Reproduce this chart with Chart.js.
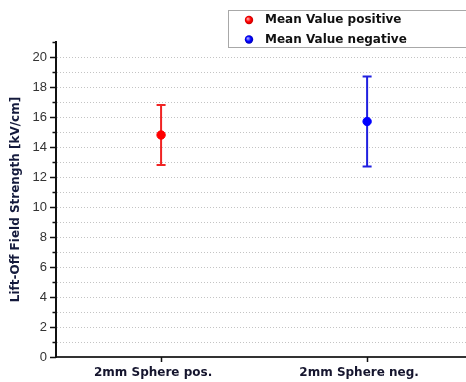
<!DOCTYPE html>
<html>
<head>
<meta charset="utf-8">
<script src="https://cdn.jsdelivr.net/npm/chart.js@4.4.0/dist/chart.umd.min.js"></script>
<style>
html,body{margin:0;padding:0;background:#fff;}
canvas{display:block;}
</style>
</head>
<body>
<canvas id="c" width="466" height="382"></canvas>
<script>
const categories = ['2mm Sphere pos.', '2mm Sphere neg.'];
const seriesNames = ['Mean Value positive', 'Mean Value negative'];
const categoryPositions = [0, 1];
const meanValues = [14.8, 15.7];
const lowerValues = [12.8, 12.7];
const upperValues = [16.8, 18.7];
const yTickLabels = [0, 2, 4, 6, 8, 10, 12, 14, 16, 18, 20];
const pointColors = ['#ff0000', '#0000ff'];
const barColors = ['#f02424', '#2020e0'];

const errorBarPlugin = {
  id: 'errorBars',
  beforeDatasetsDraw(chart) {
    const ctx = chart.ctx;
    const xs = chart.scales.x, ys = chart.scales.y;
    chart.data.datasets.forEach((ds, i) => {
      const x = xs.getPixelForValue(categoryPositions[i]);
      const yl = ys.getPixelForValue(lowerValues[i]);
      const yh = ys.getPixelForValue(upperValues[i]);
      ctx.save();
      ctx.strokeStyle = barColors[i];
      ctx.lineWidth = 2;
      ctx.beginPath();
      ctx.moveTo(x, yl); ctx.lineTo(x, yh);
      ctx.moveTo(x - 4.5, yl); ctx.lineTo(x + 4.5, yl);
      ctx.moveTo(x - 4.5, yh); ctx.lineTo(x + 4.5, yh);
      ctx.stroke();
      ctx.restore();
    });
  }
};

const axisTicksPlugin = {
  id: 'axisTicks',
  afterDraw(chart) {
    const ctx = chart.ctx;
    const ys = chart.scales.y, xs = chart.scales.x;
    const left = chart.chartArea.left, bottom = chart.chartArea.bottom;
    ctx.save();
    ctx.strokeStyle = '#111';
    ctx.lineWidth = 1.5;
    ctx.beginPath();
    for (let v = ys.min; v <= ys.max; v++) {
      const y = Math.round(ys.getPixelForValue(v)) + 0.5;
      const len = (v % 2 === 0) ? 6 : 3.5;
      ctx.moveTo(left - len, y); ctx.lineTo(left, y);
    }
    categoryPositions.forEach(p => {
      const x = Math.round(xs.getPixelForValue(p)) + 0.5;
      ctx.moveTo(x, bottom); ctx.lineTo(x, bottom + 5);
    });
    ctx.stroke();
    ctx.restore();
  }
};

const boxLegendPlugin = {
  id: 'boxLegend',
  afterDraw(chart) {
    const ctx = chart.ctx;
    ctx.save();
    ctx.strokeStyle = '#a8a8a8';
    ctx.lineWidth = 1;
    ctx.fillStyle = '#fff';
    ctx.fillRect(228.5, 10.5, 250, 37);
    ctx.strokeRect(228.5, 10.5, 250, 37);
    chart.data.datasets.forEach((ds, i) => {
      const cy = 20 + i * 19.5;
      const cx = 249;
      const g = ctx.createRadialGradient(cx - 1.2, cy - 1.2, 0.5, cx, cy, 4.5);
      g.addColorStop(0, i === 0 ? '#ff9a9a' : '#9a9aff');
      g.addColorStop(0.5, pointColors[i]);
      g.addColorStop(1, i === 0 ? '#c00000' : '#0000b0');
      ctx.fillStyle = g;
      ctx.beginPath();
      ctx.arc(cx, cy, 4.2, 0, Math.PI * 2);
      ctx.fill();
      ctx.fillStyle = '#111';
      ctx.font = 'bold 12px "DejaVu Sans"';
      ctx.textBaseline = 'middle';
      ctx.textAlign = 'left';
      ctx.fillText(ds.label, 265, cy);
    });
    ctx.restore();
  }
};

const datasets = seriesNames.map((name, i) => ({
  label: name,
  data: [{ x: categoryPositions[i], y: meanValues[i] }],
  pointRadius: 4.2,
  pointHoverRadius: 4.2,
  pointBackgroundColor: pointColors[i],
  pointBorderColor: pointColors[i],
  pointBorderWidth: 1,
  showLine: false
}));

new Chart(document.getElementById('c'), {
  type: 'scatter',
  data: { datasets },
  plugins: [errorBarPlugin, axisTicksPlugin, boxLegendPlugin],
  options: {
    responsive: false,
    animation: false,
    layout: { autoPadding: false, padding: { top: 42, left: 0, right: 0, bottom: 0 } },
    plugins: { legend: { display: false }, tooltip: { enabled: false } },
    scales: {
      x: {
        type: 'linear',
        min: -0.51,
        max: 1.48,
        afterBuildTicks: (s) => { s.ticks = categoryPositions.map(v => ({ value: v })); },
        afterFit: (s) => { s.height = 25; s.paddingLeft = 0; s.paddingRight = 0; },
        grid: { display: false, drawTicks: false },
        border: { display: true, color: '#333', width: 2 },
        ticks: {
          callback: (v) => categories[categoryPositions.indexOf(v)],
          font: { family: 'DejaVu Sans', weight: 'bold', size: 12 },
          color: '#15152e',
          padding: 9,
          labelOffset: -8,
          maxRotation: 0,
          autoSkip: false
        }
      },
      y: {
        min: 0,
        max: 21,
        afterFit: (s) => { s.width = 56; s.paddingTop = 0; s.paddingBottom = 0; },
        grid: {
          drawTicks: false,
          color: (c) => (c.tick && c.tick.value > 0 && c.tick.value < 21) ? '#c4c4c4' : 'rgba(0,0,0,0)',
          lineWidth: 1
        },
        border: { display: true, color: '#111', width: 2, dash: [1, 2] },
        ticks: {
          stepSize: 1,
          autoSkip: false,
          callback: (v) => yTickLabels.includes(v) ? String(v) : '',
          font: { family: 'Liberation Sans', size: 13 },
          color: '#333',
          padding: 9
        },
        title: {
          display: true,
          text: 'Lift-Off Field Strength [kV/cm]',
          font: { family: 'DejaVu Sans', weight: 'bold', size: 12 },
          color: '#141a3c',
          padding: { top: 9, bottom: 0 }
        }
      }
    }
  }
});
</script>
</body>
</html>
